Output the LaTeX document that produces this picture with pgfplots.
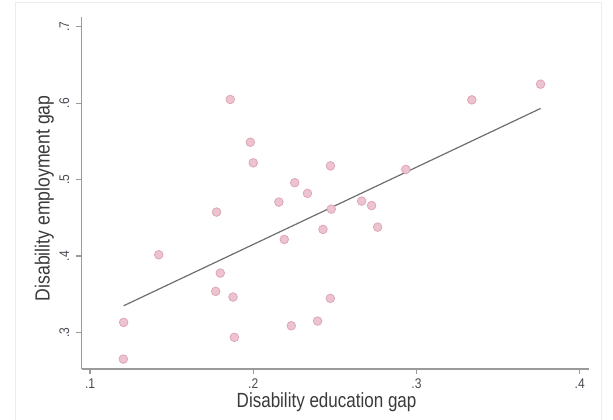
\documentclass[border=0pt]{standalone}
\usepackage{fontspec}
\setmainfont[FakeStretch=0.86]{Liberation Sans}
\newfontfamily\labfont[FakeStretch=0.83]{Liberation Sans}
\usepackage{pgfplots}
\pgfplotsset{compat=1.18}
\definecolor{mkfill}{HTML}{ECC4CF}
\definecolor{mkdraw}{HTML}{E0A5B6}
\definecolor{axgray}{HTML}{9A9A9A}
\definecolor{fitgray}{HTML}{6E6E6E}
\definecolor{tickc}{HTML}{4A4A55}
\definecolor{txt}{HTML}{3A3A3A}
\begin{document}
\begin{tikzpicture}
\begin{axis}[
  at={(81.7pt,51pt)}, anchor=south west,
  width=507pt, height=352pt, scale only axis,
  xmin=0.0949, xmax=0.4055, ymin=0.252, ymax=0.713,
  axis x line*=bottom, axis y line*=left,
  axis line style={axgray, line width=1.3pt, -},
  xtick={0.1,0.2,0.3,0.4}, xticklabels={.1,.2,.3,.4},
  ytick={0.3,0.4,0.5,0.6,0.7}, yticklabels={.3,.4,.5,.6,.7},
  tick align=outside, major tick length=5.5pt,
  tick style={axgray, line width=1.1pt},
  ticklabel style={font=\fontsize{14}{16}\selectfont, text=tickc},
  xticklabel style={anchor=base, yshift=-14pt},
  yticklabel style={xshift=-7pt, rotate=90, anchor=base},
  xlabel={Disability education gap},
  ylabel={Disability employment gap},
  xlabel style={font=\labfont\fontsize{20.5}{22}\selectfont, text=txt,
    at={(axis description cs:0.483,-0.1108)}, anchor=base},
  ylabel style={font=\fontsize{20.5}{22}\selectfont, text=txt,
    at={(axis description cs:-0.0631,0.485)}, anchor=base},
  clip=false,
]
\addplot[only marks, mark=*, mark size=4.3pt,
  mark options={fill=mkfill, draw=mkdraw, line width=0.8pt}] table {
x y
0.1859 0.605
0.1982 0.549
0.2000 0.522
0.2473 0.518
0.2254 0.496
0.2332 0.482
0.2157 0.4706
0.2664 0.4719
0.2725 0.466
0.2478 0.4614
0.1775 0.4575
0.2762 0.4378
0.2427 0.4348
0.2190 0.4217
0.1421 0.4016
0.1798 0.3776
0.1770 0.3537
0.1876 0.3462
0.2472 0.3445
0.2394 0.3148
0.2233 0.3086
0.1884 0.2935
0.1206 0.313
0.1204 0.265
0.2935 0.5133
0.3339 0.6045
0.3760 0.625
};
\addplot[fitgray, line width=1.2pt] coordinates {(0.1206,0.3348) (0.3760,0.5932)};
\end{axis}
\draw[color=black!7, line width=0.6pt] (15.7pt,-2pt) -- (15.7pt,417.3pt) -- (601pt,417.3pt) -- (601pt,-2pt);
\pgfresetboundingbox
\path[use as bounding box] (0pt,0pt) rectangle (613pt,420pt);
\end{tikzpicture}
\end{document}
